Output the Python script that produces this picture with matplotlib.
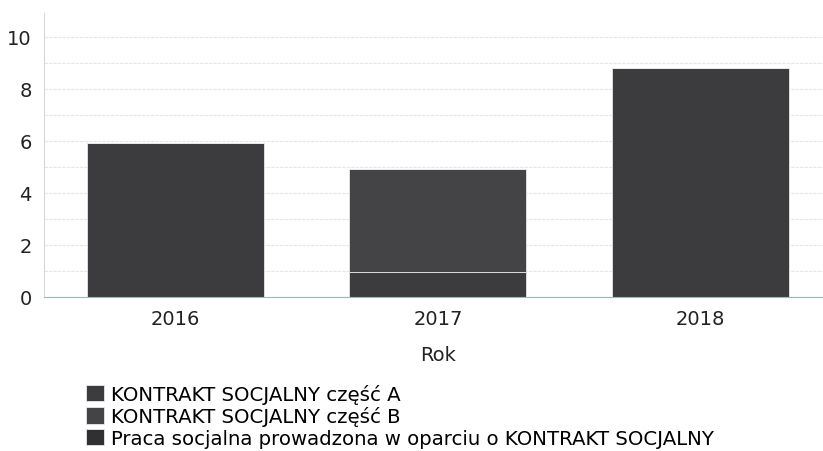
import matplotlib.pyplot as plt

years = ["2016", "2017", "2018"]
series = [
    "KONTRAKT SOCJALNY część A",
    "KONTRAKT SOCJALNY część B",
    "Praca socjalna prowadzona w oparciu o KONTRAKT SOCJALNY",
]
part_a = [5.9, 0.95, 8.8]
part_b = [0.0, 3.95, 0.0]
praca = [0.0, 0.0, 0.0]
colors = ["#3c3c3e", "#444446", "#303032"]

plt.rcParams["font.family"] = ["DejaVu Sans"]

fig = plt.figure(figsize=(8.23, 4.52), dpi=100)
ax = fig.add_axes([0.0535, 0.341, 0.957, 0.627])

x = range(len(years))
bottom = [0.0] * len(years)
for name, vals, c in zip(series, [part_a, part_b, praca], colors):
    ax.bar(x, vals, width=0.675, bottom=bottom, color=c, label=name,
           edgecolor="#e8e8e8", linewidth=0.6)
    bottom = [b + v for b, v in zip(bottom, vals)]

ax.set_xlim(-0.5, 2.5)
ax.set_ylim(0, 10.9)
ax.set_yticks(range(0, 11, 2))
ax.set_yticks(range(0, 11), minor=True)
ax.grid(axis="y", which="both", color="#e6e6e6", linewidth=0.8, linestyle=(0, (3, 1)))
ax.set_axisbelow(True)
ax.set_xticks(list(x))
ax.set_xticklabels(years)
ax.tick_params(axis="both", which="both", length=0, labelsize=14, colors="#222222")
ax.tick_params(axis="y", pad=9)
ax.tick_params(axis="x", pad=9)
ax.set_xlabel("Rok", fontsize=14, color="#222222", labelpad=12)
for s in ["top", "right"]:
    ax.spines[s].set_visible(False)
ax.spines["left"].set_color("#d8d8d8")
ax.spines["bottom"].set_color("#9fb8b8")

fig.legend(loc="upper left", bbox_to_anchor=(0.105, 0.148), frameon=False,
           fontsize=14.2, handlelength=0.9, handleheight=0.9, handletextpad=0.35,
           labelspacing=0.12, borderaxespad=0, borderpad=0)

fig.savefig("out.png", dpi=100)
